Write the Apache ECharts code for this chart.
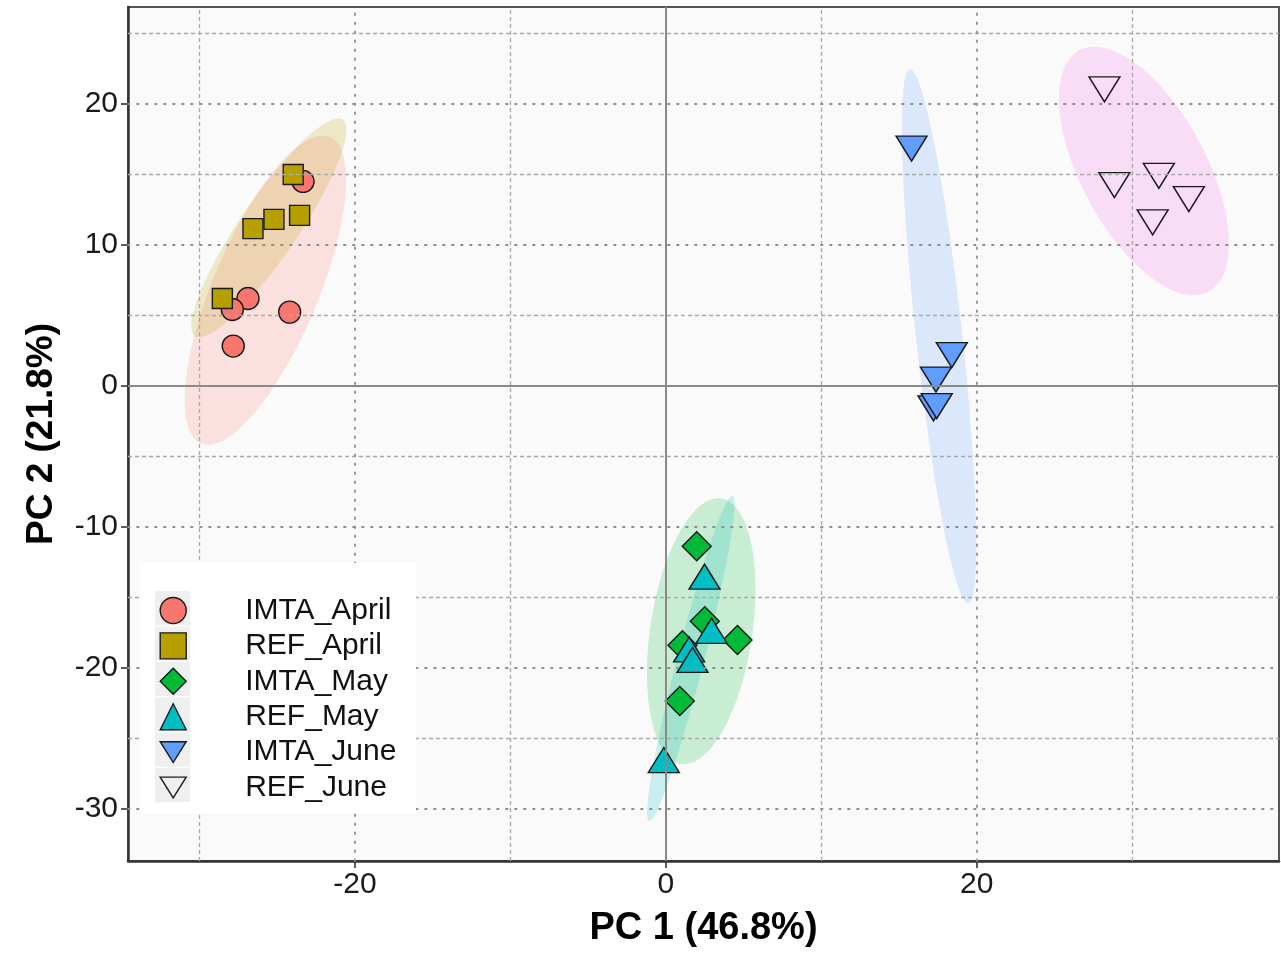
<!DOCTYPE html>
<html>
<head>
<meta charset="utf-8">
<title>PCA score plot</title>
<script src="https://cdn.jsdelivr.net/npm/echarts@6/dist/echarts.min.js"></script>
<style>
  html, body { margin: 0; padding: 0; background: #ffffff; }
  #chart { width: 1281px; height: 953px; }
</style>
</head>
<body>
<div id="chart"></div>
<script>
// Sample groups (site x month)
const groups = ['IMTA_April', 'REF_April', 'IMTA_May', 'REF_May', 'IMTA_June', 'REF_June'];

// PCA scores [PC1, PC2] per sample
const imtaApril = [[-23.34, 14.51], [-26.88, 6.21], [-27.89, 5.43], [-24.20, 5.24], [-27.83, 2.83]];
const refApril  = [[-23.97, 15.00], [-23.56, 12.10], [-25.21, 11.82], [-26.56, 11.16], [-28.53, 6.21]];
const imtaMay   = [[1.99, -11.37], [2.51, -16.68], [4.61, -18.02], [1.07, -18.38], [0.90, -22.34]];
const refMay    = [[2.49, -13.52], [2.94, -17.36], [1.50, -18.68], [1.72, -19.43], [-0.13, -26.53]];
const imtaJune  = [[15.81, 16.84], [18.40, 2.19], [17.38, 0.46], [17.22, -1.58], [17.43, -1.42]];
const refJune   = [[28.22, 21.04], [28.86, 14.25], [31.72, 14.91], [33.65, 13.26], [31.32, 11.61]];

// Group ellipses: centre, end of the long axis, short/long axis ratio
const ellipseCenter = [[-25.76, 6.79], [-25.54, 11.22], [2.28, -17.39], [1.61, -19.32], [17.58, 3.53], [30.76, 15.25]];
const ellipseTip    = [[-21.62, 17.66], [-20.79, 18.89], [3.56, -7.97], [4.29, -7.78], [15.70, 22.49], [34.91, 6.69]];
const ellipseRatio  = [0.317, 0.22, 0.38, 0.08, 0.086, 0.457];

// Axis ticks and grid lines
const xTicks = [-20, 0, 20];
const xMinor = [-30, -10, 10, 30];
const yTicks = [-30, -20, -10, 0, 10, 20];
const yMinor = [-25, -15, -5, 5, 15, 25];

const groupColors = ['#F8766D', '#B79F00', '#00BA38', '#00BFC4', '#619CFF', '#F564E3'];
const FONT = '"Liberation Sans", Arial, sans-serif';
const DOWN_TRIANGLE = 'path://M0,0L2,0L1,1.6Z';

const chart = echarts.init(document.getElementById('chart'), null, { renderer: 'canvas' });

const ellipseData = groups.map((g, i) => [
  ellipseCenter[i][0], ellipseCenter[i][1], ellipseTip[i][0], ellipseTip[i][1], ellipseRatio[i]
]);

function hexToRgba(hex, a) {
  const n = parseInt(hex.slice(1), 16);
  return 'rgba(' + ((n >> 16) & 255) + ',' + ((n >> 8) & 255) + ',' + (n & 255) + ',' + a + ')';
}

const dotted = { color: '#8f8f8f', width: 1.8, type: [1.6, 7.4], cap: 'round' };
const dashed = { color: '#aaaaaa', width: 1.3, type: [4, 3] };

const markerStyle = (fill) => ({ color: fill, borderColor: '#1a1a1a', borderWidth: 1.4, opacity: 1 });

const scatterDefs = [
  { name: 'IMTA_April', data: imtaApril, symbol: 'circle', size: 22, fill: groupColors[0] },
  { name: 'REF_April', data: refApril, symbol: 'rect', size: 20, fill: groupColors[1] },
  { name: 'IMTA_May', data: imtaMay, symbol: 'diamond', size: [29, 29], fill: groupColors[2] },
  { name: 'REF_May', data: refMay, symbol: 'triangle', size: [31, 25], fill: groupColors[3] },
  { name: 'IMTA_June', data: imtaJune, symbol: DOWN_TRIANGLE, size: [31, 25], fill: groupColors[4] },
  { name: 'REF_June', data: refJune, symbol: DOWN_TRIANGLE, size: [31, 25], fill: 'rgba(0,0,0,0)' }
];

// Legend box and key backgrounds
const legendGraphics = [{
  type: 'rect', shape: { x: 140, y: 563, width: 276, height: 250 },
  style: { fill: '#ffffff' }, z: 50, silent: true
}];
for (let i = 0; i < groups.length; i++) {
  legendGraphics.push({
    type: 'rect', shape: { x: 155, y: 591 + i * 35.4, width: 35, height: 34.2 },
    style: { fill: '#efefef' }, z: 51, silent: true
  });
}

const option = {
  backgroundColor: '#ffffff',
  animation: false,
  grid: {
    left: 128, top: 7, width: 1151, height: 854,
    show: true, backgroundColor: '#fafafa', borderColor: '#555555', borderWidth: 2
  },
  xAxis: {
    type: 'value', min: -34.6, max: 39.45,
    name: 'PC 1 (46.8%)', nameLocation: 'middle', nameGap: 49,
    nameTextStyle: { fontFamily: FONT, fontSize: 38, fontWeight: 'bold', color: '#000' },
    axisLine: { show: true, onZero: false, lineStyle: { color: '#333', width: 2.5 } },
    axisTick: { show: true, length: 7, customValues: xTicks, lineStyle: { color: '#333', width: 1.6 } },
    axisLabel: { customValues: xTicks, fontFamily: FONT, fontSize: 30, color: '#1a1a1a', margin: 9 },
    splitLine: { show: false }
  },
  yAxis: {
    type: 'value', min: -33.69, max: 26.88,
    name: 'PC 2 (21.8%)', nameLocation: 'middle', nameGap: 68, nameRotate: 90,
    nameTextStyle: { fontFamily: FONT, fontSize: 37, fontWeight: 'bold', color: '#000' },
    axisLine: { show: true, onZero: false, lineStyle: { color: '#333', width: 2.5 } },
    axisTick: { show: true, length: 7, customValues: yTicks, lineStyle: { color: '#333', width: 1.6 } },
    axisLabel: { customValues: yTicks, fontFamily: FONT, fontSize: 30, color: '#1a1a1a', margin: 10 },
    splitLine: { show: false }
  },
  legend: {
    data: groups,
    orient: 'vertical',
    left: 159.5, top: 595.5,
    padding: 0,
    itemWidth: 26, itemHeight: 26, itemGap: 5.4,
    z: 60,
    selectedMode: false,
    itemStyle: { borderColor: '#1a1a1a', borderWidth: 1.4 },
    textStyle: { fontFamily: FONT, fontSize: 30, color: '#111', lineHeight: 26, padding: [0, 0, 0, 54] }
  },
  graphic: legendGraphics,
  series: [
    {
      // panel grid lines and zero reference lines
      type: 'line', name: 'gridlines', data: [], silent: true, z: 1,
      markLine: {
        silent: true, symbol: 'none', label: { show: false }, animation: false,
        data: [].concat(
          xMinor.map(v => ({ xAxis: v, lineStyle: dashed })),
          yMinor.map(v => ({ yAxis: v, lineStyle: dashed })),
          xTicks.filter(v => v !== 0).map(v => ({ xAxis: v, lineStyle: dotted })),
          yTicks.filter(v => v !== 0).map(v => ({ yAxis: v, lineStyle: dotted })),
          [{ xAxis: 0, lineStyle: { color: '#8a8a8a', width: 2, type: 'solid' } },
           { yAxis: 0, lineStyle: { color: '#8a8a8a', width: 2, type: 'solid' } }]
        )
      }
    },
    {
      type: 'custom', name: 'ellipses', z: 2, silent: true,
      data: ellipseData,
      encode: { x: [0, 2], y: [1, 3] },
      renderItem: function (params, api) {
        const c = api.coord([api.value(0), api.value(1)]);
        const t = api.coord([api.value(2), api.value(3)]);
        const r = api.value(4);
        const ux = t[0] - c[0], uy = t[1] - c[1];
        const vx = -uy * r, vy = ux * r;
        const pts = [];
        const n = 120;
        for (let k = 0; k < n; k++) {
          const a = 2 * Math.PI * k / n;
          pts.push([c[0] + Math.cos(a) * ux + Math.sin(a) * vx, c[1] + Math.cos(a) * uy + Math.sin(a) * vy]);
        }
        return {
          type: 'polygon', shape: { points: pts },
          style: { fill: hexToRgba(groupColors[params.dataIndex], 0.2), stroke: null }
        };
      }
    }
  ].concat(scatterDefs.map(d => ({
    type: 'scatter', name: d.name, data: d.data, z: 3,
    symbol: d.symbol, symbolSize: d.size,
    itemStyle: markerStyle(d.fill),
    emphasis: { disabled: true }
  })))
};

chart.setOption(option);
</script>
</body>
</html>
